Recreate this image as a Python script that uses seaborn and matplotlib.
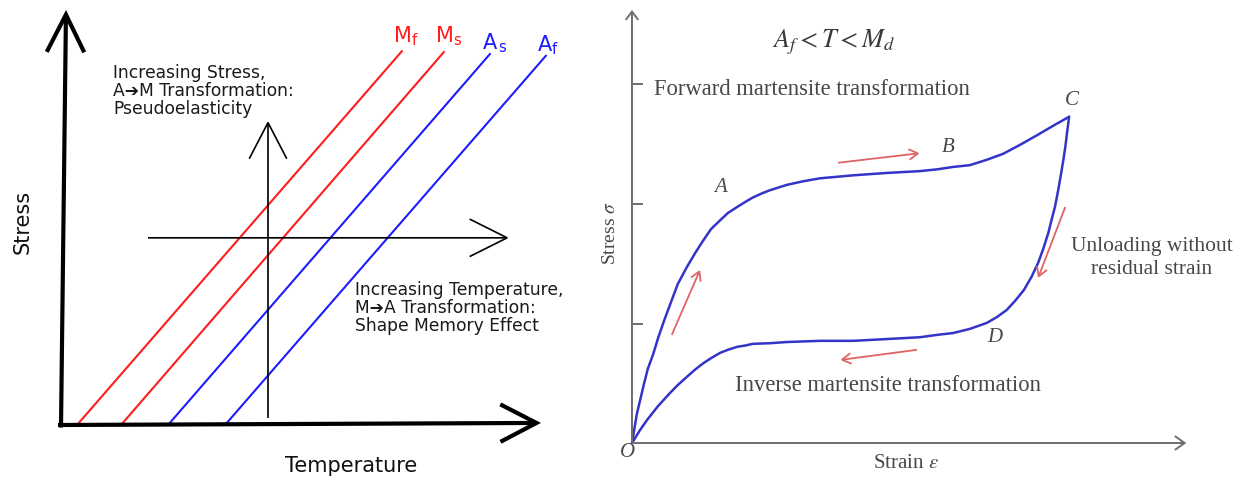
import matplotlib
matplotlib.use("Agg")
import matplotlib.pyplot as plt
import pandas as pd
import seaborn as sns

sns.set_theme(style="white")
plt.rcParams["font.family"] = ["DejaVu Sans"]
plt.rcParams["mathtext.fontset"] = "stix"

# ---------------- Left panel: stress vs temperature phase lines ----------------
phase_names = ["Mf", "Ms", "As", "Af"]
phase_labels = [r"$\mathregular{M_f}$", r"$\mathregular{M_s}$",
                r"$\mathregular{A_{\,s}}$", r"$\mathregular{A_f}$"]
phase_colors = ["#ff1c1c", "#ff1c1c", "#1c1cff", "#1c1cff"]
phase_base_temp = [3.2, 12.0, 21.4, 32.8]      # temperature at zero stress
phase_top_temp = [68.2, 76.6, 85.8, 97.0]      # temperature at the upper end
phase_top_stress = [90.1, 89.9, 89.4, 89.0]    # stress at the upper end
label_temp = [66.4, 74.8, 84.2, 95.2]
label_stress = [92.3, 92.3, 90.4, 89.9]

# axis extents of the schematic (arbitrary units)
temp_axis_end = 96.0
stress_axis_end = 100.0
# the two process arrows
stress_path_temp = 41.4
stress_path = (1.7, 73.3)
temp_path_stress = 45.1
temp_path = (17.4, 89.6)

# ---------------- Right panel: pseudoelastic stress–strain loop ----------------
load_strain = [0, 0.04, 0.09, 0.15, 0.22, 0.29, 0.39, 0.48, 0.59, 0.70, 0.84, 1.01,
               1.16, 1.30, 1.45, 1.62, 1.76, 1.93, 2.07, 2.22, 2.39, 2.53, 2.84, 3.14,
               3.45, 4.06, 4.68, 5.28, 5.60, 5.89, 6.20, 6.51, 6.81, 7.12, 7.43, 7.73,
               8.02]
load_stress = [0, 22, 49, 72, 99, 124, 149, 176, 205, 232, 266, 295, 318, 338, 358,
               373, 385, 395, 403, 411, 418, 423, 432, 438, 443, 448, 452, 455, 458,
               462, 465, 474, 484, 499, 515, 531, 546]
unload_strain = [8.02, 7.985, 7.95, 7.915, 7.875, 7.82, 7.76, 7.70, 7.64, 7.55, 7.45,
                 7.33, 7.19, 7.03, 6.88, 6.70, 6.51, 6.20, 5.89, 5.60, 5.28, 4.68,
                 4.06, 3.45, 2.84, 2.53, 2.22, 2.07, 1.93, 1.76, 1.62, 1.45, 1.30,
                 1.16, 1.01, 0.84, 0.70, 0.48, 0.28, 0.15, 0]
unload_stress = [546, 521, 495, 474, 452, 423, 395, 374, 352, 326, 301, 278, 256,
                 238, 223, 211, 201, 191, 184, 181, 177, 174, 171, 171, 169, 167,
                 166, 163, 161, 156, 151, 142, 133, 123, 111, 97, 84, 62, 39, 22, 0]
stress_ticks = [200, 400, 600]
strain_axis_end = 10.17
stress_axis_top = 724.7

point_names = ["A", "B", "C", "D"]
point_strain = [1.62, 5.80, 8.07, 6.66]
point_stress = [427, 495, 574, 177]

# direction arrows along the loop: (start strain, start stress, end strain, end stress)
flow_arrows = [
    (0.73, 181, 1.25, 290),
    (3.78, 469, 5.28, 485),
    (7.95, 395, 7.45, 276),
    (5.23, 156, 3.82, 139),
]

W, H = 1249, 480
fig = plt.figure(figsize=(W / 100, H / 100), dpi=100)
ax_l = fig.add_axes([0, 0, 600 / W, 1])
ax_r = fig.add_axes([600 / W, 0, 649 / W, 1])

# ---- left panel drawing ----
ax_l.set_xlim(-12.2, 107.8)
ax_l.set_ylim(-13.25, 102.4)
ax_l.axis("off")

rows = []
for name, t0, t1, s1 in zip(phase_names, phase_base_temp, phase_top_temp, phase_top_stress):
    rows.append({"phase": name, "temperature": t0, "stress": 0.0})
    rows.append({"phase": name, "temperature": t1, "stress": s1})
phase_df = pd.DataFrame(rows)
sns.lineplot(data=phase_df, x="temperature", y="stress", hue="phase",
             palette=dict(zip(phase_names, phase_colors)), estimator=None,
             sort=False, legend=False, linewidth=1.5, ax=ax_l)

for lab, t, s, c in zip(phase_labels, label_temp, label_stress, phase_colors):
    ax_l.text(t, s, lab, color=c, fontsize=15, ha="left", va="baseline")


def open_arrow(ax, start, end, lw, color, hl, hw):
    ax.annotate("", xy=end, xytext=start,
                arrowprops=dict(arrowstyle=f"->,head_length={hl},head_width={hw}",
                                lw=lw, color=color, shrinkA=0, shrinkB=0,
                                mutation_scale=1, joinstyle="miter",
                                capstyle="butt"))


# main axes
open_arrow(ax_l, (0, -0.6), (1.0, stress_axis_end), 3.0, "black", 27, 13.5)
open_arrow(ax_l, (-0.6, 0), (temp_axis_end, 0.5), 3.0, "black", 26, 13.5)
# process arrows
open_arrow(ax_l, (stress_path_temp, stress_path[0]), (stress_path_temp, stress_path[1]),
           1.2, "black", 26, 13.5)
open_arrow(ax_l, (temp_path[0], temp_path_stress), (temp_path[1], temp_path_stress),
           1.2, "black", 27, 13.5)

ax_l.text(-7.6, 48.9, "Stress", rotation=90, fontsize=15, ha="center", va="center",
          color="#111111")
ax_l.text(58.0, -9.8, "Temperature", fontsize=15, ha="center", va="center",
          color="#111111")
ax_l.text(10.4, 87.0, "Increasing Stress,\nA\u2794M Transformation:\nPseudoelasticity",
          fontsize=12.3, ha="left", va="top", linespacing=0.99, color="#1a1a1a")
ax_l.text(58.8, 34.7, "Increasing Temperature,\nM\u2794A Transformation:\nShape Memory Effect",
          fontsize=12.3, ha="left", va="top", linespacing=0.99, color="#1a1a1a")

# ---- right panel drawing ----
ax_r.set_xlim(-0.587, 11.321)
ax_r.set_ylim(-61.9, 741.4)
ax_r.axis("off")

axis_grey = "#6e6e6e"
text_grey = "#484848"
serif = ["Liberation Serif", "DejaVu Serif"]

open_arrow(ax_r, (0, 0), (0, stress_axis_top), 1.4, axis_grey, 6, 4.5)
open_arrow(ax_r, (0, 0), (strain_axis_end, 0), 1.4, axis_grey, 7, 5)
for t in stress_ticks:
    ax_r.plot([0, 0.2], [t, t], color=axis_grey, lw=1.4, solid_capstyle="butt")

loop_df = pd.DataFrame({
    "strain": load_strain + unload_strain,
    "stress": load_stress + unload_stress,
    "branch": ["loading"] * len(load_strain) + ["unloading"] * len(unload_strain),
})
sns.lineplot(data=loop_df, x="strain", y="stress", units="branch", estimator=None,
             sort=False, color="#3434c8", linewidth=1.8, solid_joinstyle="round",
             ax=ax_r)

for x0, y0, x1, y1 in flow_arrows:
    open_arrow(ax_r, (x0, y0), (x1, y1), 1.3, "#e06464", 6.5, 3.8)

for name, e, s in zip(point_names, point_strain, point_stress):
    ax_r.text(e, s, name, fontsize=15, style="italic", family=serif,
              color=text_grey, ha="center", va="center")
ax_r.text(-0.09, -16, "O", fontsize=15, style="italic", family=serif,
          color=text_grey, ha="center", va="center")

ax_r.text(3.71, 671, r"$A_f < T < M_d$", fontsize=19, color="#3a3a3a",
          ha="center", va="center")
ax_r.text(0.40, 591, "Forward martensite transformation", fontsize=16.3, family=serif,
          color=text_grey, ha="left", va="center")
ax_r.text(1.89, 97, "Inverse martensite transformation", fontsize=16.3, family=serif,
          color=text_grey, ha="left", va="center")
ax_r.text(9.54, 310, "Unloading without\nresidual strain", fontsize=15.5, family=serif,
          color=text_grey, ha="center", va="center", linespacing=1.3)
ax_r.text(5.03, -34, r"Strain $\varepsilon$", fontsize=15, family=serif,
          color=text_grey, ha="center", va="center")
ax_r.text(-0.40, 352, r"Stress $\sigma$", fontsize=14, family=serif, rotation=90,
          color=text_grey, ha="center", va="center")

fig.savefig("out.png", dpi=100, facecolor="white")
